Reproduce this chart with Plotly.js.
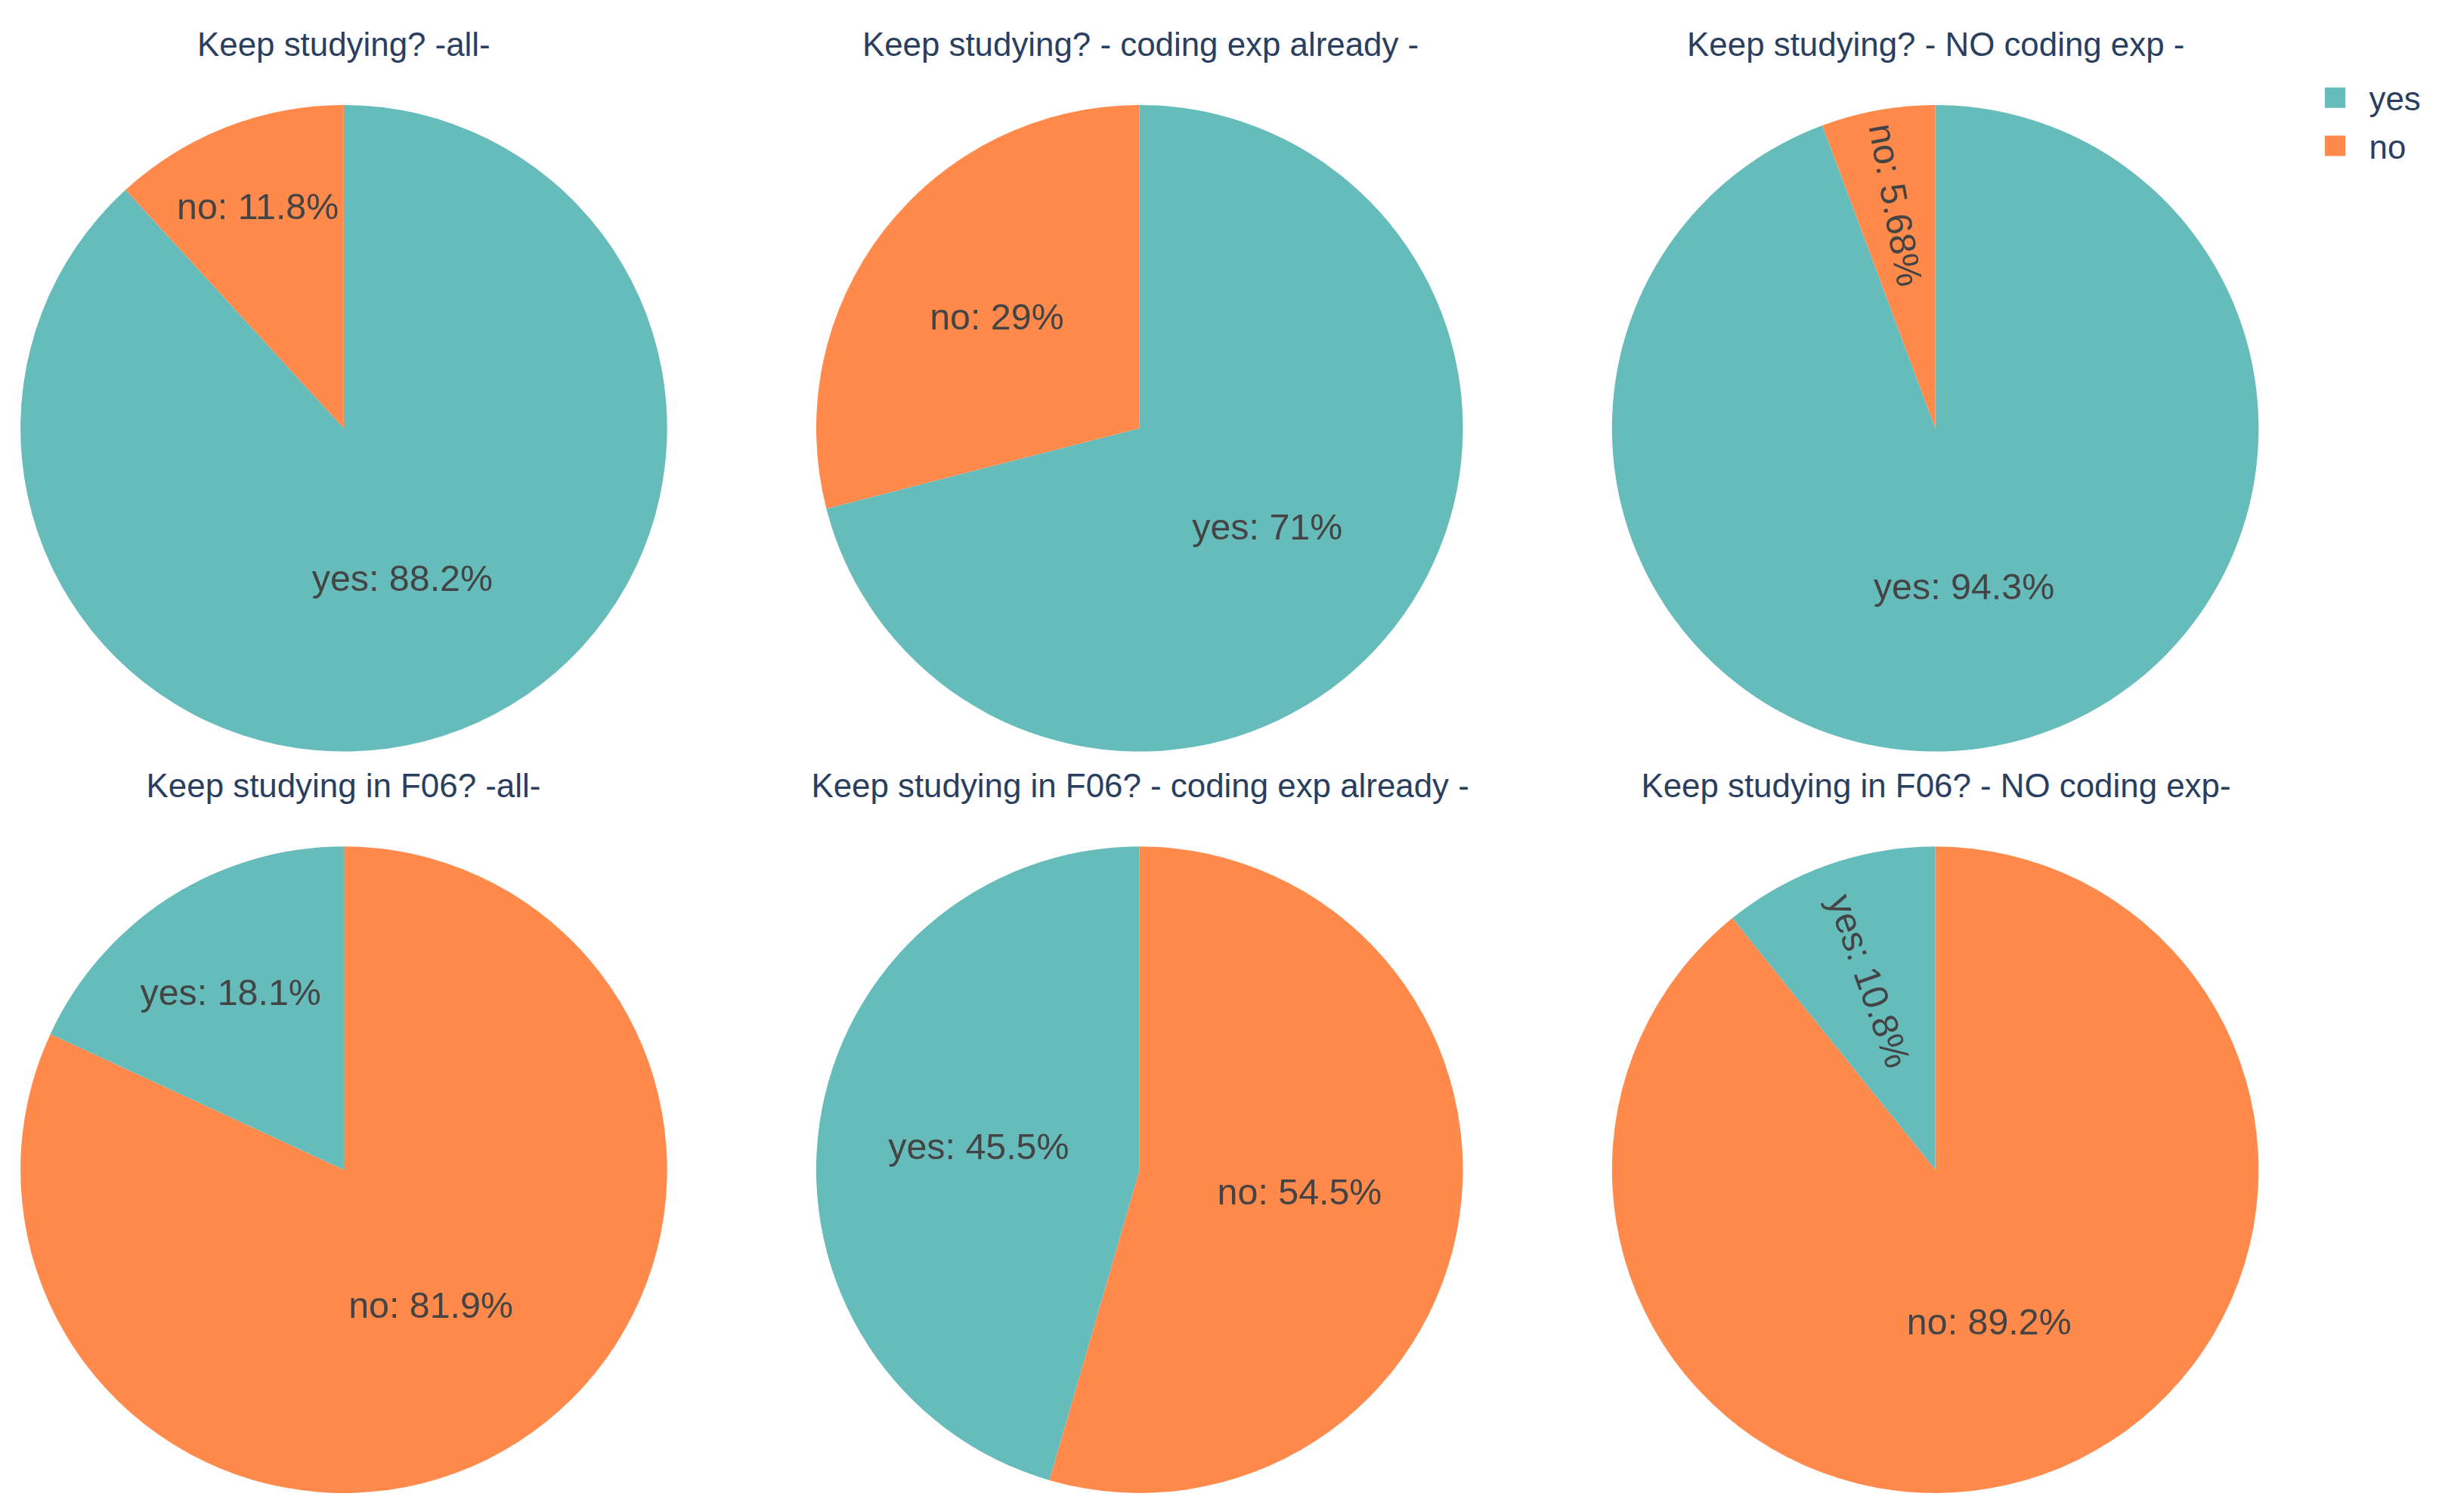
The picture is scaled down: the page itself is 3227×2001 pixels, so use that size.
<!DOCTYPE html>
<html>
<head>
<meta charset="utf-8">
<script src="https://cdn.plot.ly/plotly-3.0.1.min.js"></script>
<style>
  html { margin: 0; padding: 0; background: #fff; overflow: hidden; }
  body { margin: 0; padding: 0; background: #fff; width: 3227px; height: 2001px; }
  /* la figura se dibuja a tamaño base y se escala como un export con scale */
  #fig { transform-origin: 0 0; }
</style>
</head>
<body>
<div id="fig"></div>
<script>
// ── Datos ───────────────────────────────────────────────────────────────────
const labels = ['yes', 'no'];
const titles = [
  'Keep studying? -all-',
  'Keep studying? - coding exp already -',
  'Keep studying? - NO coding exp -',
  'Keep studying in F06? -all-',
  'Keep studying in F06? - coding exp already -',
  'Keep studying in F06? - NO coding exp-',
];
const yesPct = [88.2, 71, 94.32, 18.1, 45.5, 10.8];
const noPct  = [11.8, 29, 5.68, 81.9, 54.5, 89.2];

// ── Estilo ──────────────────────────────────────────────────────────────────
const SCALE = 2.25;
const W = 3227 / SCALE, H = 2001 / SCALE;
const FONT = 'Liberation Sans, Arial, sans-serif';
const COLORS = ['#66BBBB', '#FF8A4C'];

const colX = [202.2, 670.2, 1138.2];   // centros en px base
const rowY = [252.0, 688.3];
const R = 190.2;
const titleY = [26.2, 462.6];

const traces = [];
const annotations = [];
titles.forEach((t, i) => {
  const cx = colX[i % 3], cy = rowY[Math.floor(i / 3)];
  traces.push({
    type: 'pie',
    labels: labels,
    values: [yesPct[i], noPct[i]],
    marker: { colors: COLORS },
    texttemplate: '%{label}: %{percent}',
    textposition: 'inside',
    textfont: { family: FONT, size: 21.5, color: '#444' },
    hoverinfo: 'label+percent',
    domain: {
      x: [(cx - R) / W, (cx + R) / W],
      y: [1 - (cy + R) / H, 1 - (cy - R) / H],
    },
  });
  annotations.push({
    text: t, showarrow: false,
    xref: 'paper', yref: 'paper',
    x: cx / W, y: 1 - titleY[Math.floor(i / 3)] / H,
    xanchor: 'center', yanchor: 'middle',
    font: { family: FONT, size: 19.5, color: '#2a3f5f' },
  });
});

const layout = {
  width: W, height: H,
  margin: { l: 0, r: 0, t: 0, b: 0 },
  paper_bgcolor: '#fff',
  font: { family: FONT, color: '#2a3f5f' },
  showlegend: true,
  legend: { x: 0.9436, y: 0.957, xanchor: 'left', yanchor: 'top',
            font: { family: FONT, size: 19.5, color: '#2a3f5f' } },
  annotations: annotations,
};

const el = document.getElementById('fig');
el.style.transform = 'scale(' + SCALE + ')';
Plotly.newPlot(el, traces, layout, { displayModeBar: false, staticPlot: true });
</script>
</body>
</html>
